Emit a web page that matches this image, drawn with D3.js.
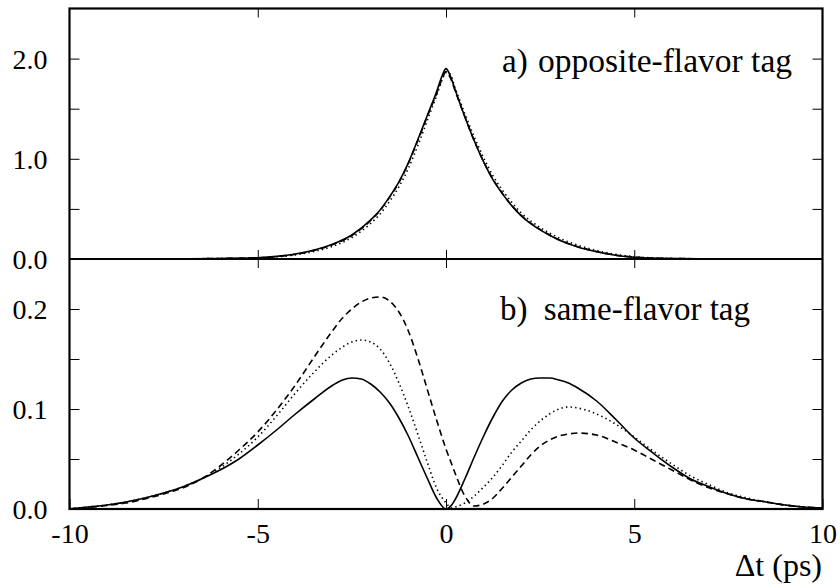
<!DOCTYPE html>
<html>
<head>
<meta charset="utf-8">
<script src="https://cdn.jsdelivr.net/npm/d3@7"></script>
<style>
  body { margin: 0; background: #fff; }
  svg { display: block; }
</style>
</head>
<body>
<script>
/*
* Donnees
*/

// panneau a) opposite-flavor tag
const tA = [-10, -9, -8, -7, -6, -5, -4.5, -4, -3.5, -3, -2.5, -2, -1.75, -1.5, -1.25, -1, -0.75, -0.5, -0.25, -0.1,
  0, 0.1, 0.25, 0.5, 0.75, 1, 1.25, 1.5, 1.75, 2, 2.5, 3, 3.5, 4, 4.5, 5, 6, 7, 8, 9, 10]
const solidA = [0, 0.0003, 0.0008, 0.002, 0.005, 0.013, 0.026, 0.05, 0.09, 0.15, 0.24, 0.39, 0.49, 0.62, 0.77, 0.96, 1.19, 1.43, 1.67, 1.83,
  1.90, 1.84, 1.68, 1.42, 1.18, 0.97, 0.79, 0.65, 0.53, 0.43, 0.29, 0.19, 0.12, 0.072, 0.038, 0.018, 0.005, 0.002, 0.0008, 0.0003, 0]
const dottedA = [0, 0.0003, 0.0008, 0.002, 0.005, 0.011, 0.021, 0.041, 0.075, 0.128, 0.215, 0.355, 0.45, 0.575, 0.72, 0.905, 1.13, 1.38, 1.63, 1.79,
  1.86, 1.85, 1.70, 1.45, 1.22, 1.01, 0.83, 0.685, 0.565, 0.46, 0.315, 0.21, 0.138, 0.085, 0.047, 0.023, 0.006, 0.002, 0.0008, 0.0003, 0]
const dashedA = [0, 0.0003, 0.0008, 0.002, 0.005, 0.012, 0.024, 0.047, 0.086, 0.145, 0.235, 0.385, 0.485, 0.615, 0.765, 0.955, 1.18, 1.42, 1.65, 1.80,
  1.87, 1.82, 1.67, 1.42, 1.18, 0.97, 0.795, 0.655, 0.535, 0.435, 0.295, 0.193, 0.123, 0.074, 0.039, 0.019, 0.005, 0.002, 0.0008, 0.0003, 0]

// panneau b) same-flavor tag
const tB = [-10, -9.5, -9, -8.5, -8, -7.5, -7, -6.5, -6, -5.5, -5, -4.5, -4, -3.5, -3,
  -2.75, -2.5, -2.25, -2, -1.75, -1.5, -1.25, -1, -0.75, -0.5, -0.25, 0,
  0.15,
  0.25, 0.5, 0.75, 1, 1.25, 1.5, 1.75, 2, 2.25, 2.5, 2.75, 3, 3.25, 3.5,
  4, 4.5, 5, 5.5, 6, 6.5, 7, 7.5, 8, 8.5, 9, 9.5, 10]
const solidB = [0.0003, 0.002, 0.004, 0.007, 0.011, 0.016, 0.022, 0.030, 0.039, 0.050, 0.064, 0.079, 0.095, 0.110, 0.124,
  0.129, 0.131, 0.130, 0.125, 0.117, 0.106, 0.091, 0.073, 0.052, 0.031, 0.011, 0,
  0.004,
  0.010, 0.030, 0.052, 0.073, 0.092, 0.108, 0.119, 0.126, 0.130, 0.131, 0.131, 0.129, 0.126, 0.121,
  0.108, 0.090, 0.071, 0.056, 0.042, 0.030, 0.022, 0.015, 0.010, 0.007, 0.004, 0.002, 0.001]
const dottedB = [0.0003, 0.002, 0.004, 0.007, 0.011, 0.016, 0.022, 0.030, 0.041, 0.055, 0.072, 0.093, 0.116, 0.137, 0.155,
  0.162, 0.167, 0.169, 0.167, 0.160, 0.146, 0.126, 0.102, 0.075, 0.047, 0.021, 0.006,
  0.001,
  0.002, 0.006, 0.013, 0.022, 0.032, 0.044, 0.057, 0.068, 0.079, 0.088, 0.095, 0.100, 0.102, 0.101,
  0.095, 0.085, 0.072, 0.058, 0.045, 0.033, 0.024, 0.016, 0.011, 0.007, 0.004, 0.002, 0.001]
const dashedB = [0, 0.0015, 0.0035, 0.006, 0.010, 0.015, 0.021, 0.030, 0.043, 0.059, 0.077, 0.099, 0.124, 0.152, 0.179,
  0.191, 0.200, 0.207, 0.211, 0.212, 0.208, 0.197, 0.178, 0.151, 0.120, 0.089, 0.060,
  0.045,
  0.035, 0.013, 0.003, 0.005, 0.011, 0.021, 0.032, 0.043, 0.054, 0.063, 0.069, 0.073, 0.075, 0.076,
  0.074, 0.067, 0.059, 0.049, 0.039, 0.029, 0.021, 0.015, 0.010, 0.007, 0.004, 0.002, 0.001]

const xTicks = [-10, -5, 0, 5, 10]
const yTicksA = [0, 1, 2]
const yMinorA = [0.5, 1.5]
const yTicksB = [0, 0.1, 0.2]
const yMinorB = [0.05, 0.15]

/*
* Mise en page
*/

const WIDTH = 840
const HEIGHT = 588
const LEFT = 69.5
const RIGHT = 822.5
const TOP = 8.5
const MID = 259
const BOTTOM = 509
const FONT = '"Liberation Serif", "DejaVu Serif", "Times New Roman", Times, serif'

const svg = d3.select('body').append('svg')
  .attr('width', WIDTH)
  .attr('height', HEIGHT)
  .attr('font-family', FONT)

const xScale = d3.scaleLinear().domain([-10, 10]).range([LEFT, RIGHT])
const yScaleA = d3.scaleLinear().domain([0, 2.5]).range([MID, TOP])
const yScaleB = d3.scaleLinear().domain([0, 0.25]).range([BOTTOM, MID])

/*
* Graduations
*/

const styleAxis = g => {
  g.attr('font-family', FONT).attr('font-size', 28)
  g.select('.domain').remove()
  g.selectAll('line').attr('stroke', '#000').attr('stroke-width', 1)
  g.selectAll('text').attr('fill', '#000')
}

const drawYAxes = (scale, major, minor) => {
  svg.append('g')
    .attr('transform', `translate(${LEFT}, 0)`)
    .call(d3.axisLeft(scale).tickValues(major).tickSize(-10).tickPadding(22).tickFormat(d3.format('.1f')))
    .call(styleAxis)
    .call(g => g.selectAll('text').attr('dy', '0.34em'))
  svg.append('g')
    .attr('transform', `translate(${LEFT}, 0)`)
    .call(d3.axisLeft(scale).tickValues(minor).tickSize(-10).tickFormat(''))
    .call(styleAxis)
  svg.append('g')
    .attr('transform', `translate(${RIGHT}, 0)`)
    .call(d3.axisRight(scale).tickValues(major.concat(minor)).tickSize(-10).tickFormat(''))
    .call(styleAxis)
}

drawYAxes(yScaleA, yTicksA, yMinorA)
drawYAxes(yScaleB, yTicksB, yMinorB)

// axe x du bas avec labels (trait d'union comme sur l'original)
svg.append('g')
  .attr('transform', `translate(0, ${BOTTOM})`)
  .call(d3.axisBottom(xScale).tickValues(xTicks).tickSize(-10).tickPadding(14).tickFormat(d => String(d)))
  .call(styleAxis)

// graduations internes sans labels
svg.append('g')
  .attr('transform', `translate(0, ${TOP})`)
  .call(d3.axisBottom(xScale).tickValues([-5, 0, 5]).tickSize(9).tickFormat(''))
  .call(styleAxis)
svg.append('g')
  .attr('transform', `translate(0, ${MID})`)
  .call(d3.axisBottom(xScale).tickValues([-5, 0, 5]).tickSize(9).tickFormat(''))
  .call(styleAxis)
svg.append('g')
  .attr('transform', `translate(0, ${MID})`)
  .call(d3.axisTop(xScale).tickValues([-5, 0, 5]).tickSize(9).tickFormat(''))
  .call(styleAxis)

/*
* Courbes
*/

const styles = [
  { dash: null },
  { dash: '1.4,3.2' },
  { dash: '6.5,4' }
]

const drawPanel = (t, series, yScale) => {
  series.forEach((values, i) => {
    const line = d3.line()
      .x((d, j) => xScale(t[j]))
      .y(d => yScale(d))
      .curve(d3.curveMonotoneX)
    svg.append('path')
      .datum(values)
      .attr('d', line)
      .attr('fill', 'none')
      .attr('stroke', '#000')
      .attr('stroke-width', 1.6)
      .attr('stroke-dasharray', styles[i].dash)
  })
}

drawPanel(tA, [solidA, dottedA, dashedA], yScaleA)
drawPanel(tB, [solidB, dottedB, dashedB], yScaleB)

/*
* Cadre
*/

svg.append('rect')
  .attr('x', LEFT)
  .attr('y', TOP)
  .attr('width', RIGHT - LEFT)
  .attr('height', BOTTOM - TOP)
  .attr('fill', 'none')
  .attr('stroke', '#000')
  .attr('stroke-width', 2.2)

svg.append('line')
  .attr('x1', LEFT).attr('x2', RIGHT)
  .attr('y1', MID).attr('y2', MID)
  .attr('stroke', '#000')
  .attr('stroke-width', 2.2)

/*
* Textes
*/

const label = (x, y, size, anchor, txt) => svg.append('text')
  .attr('x', x)
  .attr('y', y)
  .attr('font-size', size)
  .attr('font-family', FONT)
  .attr('text-anchor', anchor)
  .attr('fill', '#000')
  .text(txt)

label(502, 72, 33, 'start', 'a)')
label(792, 72, 33.5, 'end', 'opposite-flavor tag')
label(500, 320, 33, 'start', 'b)')
label(750, 320, 33, 'end', 'same-flavor tag')
label(822, 576, 32, 'end', 'Δt (ps)')
</script>
</body>
</html>
